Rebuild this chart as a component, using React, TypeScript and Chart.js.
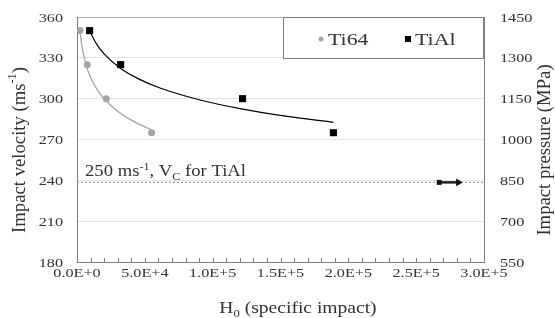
import React, { useEffect, useRef } from "react";
import { Chart, registerables } from "chart.js";
Chart.register(...registerables);

const FONT = '"Liberation Serif", "Times New Roman", serif';
const TEXT = "#333333";

// Data
const ti64X = [2200, 7600, 21600, 55000];
const ti64Y = [350, 325, 300, 275];
const tialX = [9300, 32200, 122000, 189000];
const tialY = [350, 325, 300, 275];

const ti64TrendX = [2200, 3500, 5000, 7600, 10000, 15000, 20000, 30000, 40000, 55000];
const ti64TrendY = [350, 339.5, 331.4, 321.9, 315.6, 306.4, 299.9, 290.7, 284.2, 277];
const tialTrendX = [9300, 14000, 20000, 32200, 45000, 61200, 90000, 120100, 155000, 188900];
const tialTrendY = [350, 340.8, 332.9, 322.2, 314.7, 307.8, 299.2, 292.7, 287, 282.6];

const criticalX = [0, 300000];
const criticalY = [238.5, 238.5];
const arrowX = [267000, 281100];
const arrowY = [238.5, 238.5];

const xTickValues = [0, 50000, 100000, 150000, 200000, 250000, 300000];
const xTickLabels = ["0.0E+0", "5.0E+4", "1.0E+5", "1.5E+5", "2.0E+5", "2.5E+5", "3.0E+5"];
const yTickValues = [180, 210, 240, 270, 300, 330, 360];
const y1TickValues = [550, 700, 850, 1000, 1150, 1300, 1450];

type Seg = { t: string; k?: "sup" | "sub" };

function drawRich(ctx: CanvasRenderingContext2D, segs: Seg[], x: number, y: number, size: number, align: string, sx: number) {
  const widths = segs.map((s) => {
    ctx.font = `${s.k ? size * 0.65 : size}px ${FONT}`;
    return ctx.measureText(s.t).width;
  });
  const total = widths.reduce((a, b) => a + b, 0) * sx;
  const left = align === "center" ? x - total / 2 : align === "right" ? x - total : x;
  ctx.save();
  ctx.translate(left, y);
  ctx.scale(sx, 1);
  ctx.textAlign = "left";
  let cx = 0;
  segs.forEach((s, i) => {
    const fs = s.k ? size * 0.65 : size;
    ctx.font = `${fs}px ${FONT}`;
    const dy = s.k === "sup" ? -size * 0.38 : s.k === "sub" ? size * 0.22 : 0;
    ctx.fillText(s.t, cx, dy);
    cx += widths[i];
  });
  ctx.restore();
}

const textPlugin = {
  id: "textPlugin",
  afterDraw(chart: any) {
    const ctx: CanvasRenderingContext2D = chart.ctx;
    const { x, y, y1 } = chart.scales;
    const area = chart.chartArea;
    ctx.save();
    ctx.fillStyle = TEXT;

    // minor ticks on x axis (inward)
    ctx.strokeStyle = "#7f7f7f";
    ctx.lineWidth = 1;
    for (let v = 10000; v < 300000; v += 10000) {
      const px = Math.round(x.getPixelForValue(v)) + 0.5;
      ctx.beginPath();
      ctx.moveTo(px, area.bottom);
      ctx.lineTo(px, area.bottom - 4);
      ctx.stroke();
    }

    // tick labels
    ctx.textBaseline = "middle";
    yTickValues.forEach((v) => drawRich(ctx, [{ t: String(v) }], 63, y.getPixelForValue(v) + 1, 13.5, "right", 1.2));
    y1TickValues.forEach((v) => drawRich(ctx, [{ t: String(v) }], 500, y1.getPixelForValue(v) + 1, 13.5, "left", 1.2));
    xTickValues.forEach((v, i) => drawRich(ctx, [{ t: xTickLabels[i] }], x.getPixelForValue(v), 273, 13.5, "center", 1.2));

    // axis titles
    ctx.textBaseline = "alphabetic";
    drawRich(ctx, [{ t: "H" }, { t: "0", k: "sub" }, { t: " (specific impact)" }], 298, 313, 17, "center", 1.15);

    ctx.textBaseline = "middle";
    ctx.save();
    ctx.translate(20, 150);
    ctx.rotate(-Math.PI / 2);
    drawRich(ctx, [{ t: "Impact velocity (ms" }, { t: "-1", k: "sup" }, { t: ")" }], 0, 0, 18.7, "center", 1);
    ctx.restore();
    ctx.save();
    ctx.translate(545, 150);
    ctx.rotate(-Math.PI / 2);
    drawRich(ctx, [{ t: "Impact pressure (MPa)" }], 0, 0, 18.7, "center", 1);
    ctx.restore();

    // annotation
    ctx.textBaseline = "alphabetic";
    drawRich(ctx, [{ t: "250 ms" }, { t: "-1", k: "sup" }, { t: ", V" }, { t: "C", k: "sub" }, { t: " for TiAl" }], 85, 176, 16.5, "left", 1.13);

    // legend
    const lx = 283, ly = area.top, lw = area.right - 283, lh = 41;
    ctx.fillStyle = "#ffffff";
    ctx.fillRect(lx, ly, lw, lh);
    ctx.strokeStyle = "#7f7f7f";
    ctx.strokeRect(lx + 0.5, ly + 0.5, lw - 1, lh);
    ctx.fillStyle = "#a5a5a5";
    ctx.beginPath();
    ctx.arc(321, 39, 2.5, 0, Math.PI * 2);
    ctx.fill();
    ctx.fillStyle = "#000000";
    ctx.fillRect(405, 36, 6, 6);
    ctx.fillStyle = TEXT;
    drawRich(ctx, [{ t: "Ti64" }], 328, 45, 17.5, "left", 1.25);
    drawRich(ctx, [{ t: "TiAl" }], 415, 45, 17.5, "left", 1.25);
    ctx.restore();
  },
};

export default function App() {
  const ref = useRef<HTMLCanvasElement>(null);
  useEffect(() => {
    document.body.style.margin = "0";
    const pts = (xs: number[], ys: number[]) => xs.map((v, i) => ({ x: v, y: ys[i] }));
    const chart = new Chart(ref.current as HTMLCanvasElement, {
      type: "scatter",
      data: {
        datasets: [
          {
            label: "crit",
            order: 10,
            data: pts(criticalX, criticalY),
            showLine: true,
            borderColor: "#999999",
            borderWidth: 1.2,
            borderDash: [2, 2],
            pointRadius: 0,
          },
          {
            label: "Ti64 trend",
            order: 8,
            data: pts(ti64TrendX, ti64TrendY),
            showLine: true,
            borderColor: "#a5a5a5",
            borderWidth: 1.3,
            pointRadius: 0,
            cubicInterpolationMode: "monotone",
          },
          {
            label: "TiAl trend",
            order: 8,
            data: pts(tialTrendX, tialTrendY),
            showLine: true,
            borderColor: "#000000",
            borderWidth: 1.2,
            pointRadius: 0,
            cubicInterpolationMode: "monotone",
          },
          {
            label: "Ti64",
            order: 2,
            data: pts(ti64X, ti64Y),
            pointStyle: "circle",
            pointRadius: 3.5,
            backgroundColor: "#a5a5a5",
            borderColor: "#a5a5a5",
            borderWidth: 0,
          },
          {
            label: "TiAl",
            order: 2,
            data: pts(tialX, tialY),
            pointStyle: "rect",
            pointRadius: 5,
            backgroundColor: "#000000",
            borderColor: "#000000",
            borderWidth: 0,
          },
          {
            label: "arrow line",
            order: 1,
            data: pts(arrowX, arrowY),
            showLine: true,
            borderColor: "#222222",
            backgroundColor: "#222222",
            borderWidth: 2.5,
            pointRadius: 0,
          },
          {
            label: "arrow start",
            order: 0,
            data: pts(arrowX.slice(0, 1), arrowY.slice(0, 1)),
            pointStyle: "rect",
            pointRadius: 3.5,
            backgroundColor: "#111111",
            borderColor: "#111111",
            borderWidth: 0,
          },
          {
            label: "arrow head",
            order: 0,
            data: pts(arrowX.slice(1), arrowY.slice(1)),
            pointStyle: "triangle",
            rotation: 90,
            pointRadius: 4.5,
            backgroundColor: "#111111",
            borderColor: "#111111",
            borderWidth: 0,
          },
        ],
      },
      options: {
        animation: false,
        responsive: true,
        maintainAspectRatio: false,
        layout: { padding: { top: 17, left: 0, right: 0, bottom: 0 } },
        plugins: { legend: { display: false }, tooltip: { enabled: false } },
        scales: {
          x: {
            type: "linear",
            min: 0,
            max: 300000,
            ticks: { display: false, stepSize: 50000 },
            grid: { display: true, drawOnChartArea: false, drawTicks: false },
            border: { display: true, color: "#7f7f7f", width: 1 },
            afterFit: (s: any) => {
              s.height = 56;
            },
          },
          y: {
            position: "left",
            min: 180,
            max: 360,
            ticks: { display: false, stepSize: 30 },
            grid: {
              drawTicks: false,
              color: (c: any) => (c.tick && c.tick.value === 360 ? "#b0b0b0" : "#e4e4e4"),
              lineWidth: 1,
            },
            border: { display: true, color: "#7f7f7f", width: 1 },
            afterFit: (s: any) => {
              s.width = 77;
            },
          },
          y1: {
            position: "right",
            min: 550,
            max: 1450,
            ticks: { display: false, stepSize: 150 },
            grid: { drawOnChartArea: false, drawTicks: false },
            border: { display: true, color: "#7f7f7f", width: 1 },
            afterFit: (s: any) => {
              s.width = 71;
            },
          },
        },
      } as any,
      plugins: [textPlugin],
    });
    return () => chart.destroy();
  }, []);
  return (
    <div style={{ width: 555, height: 318, position: "relative" }}>
      <canvas ref={ref} />
    </div>
  );
}
